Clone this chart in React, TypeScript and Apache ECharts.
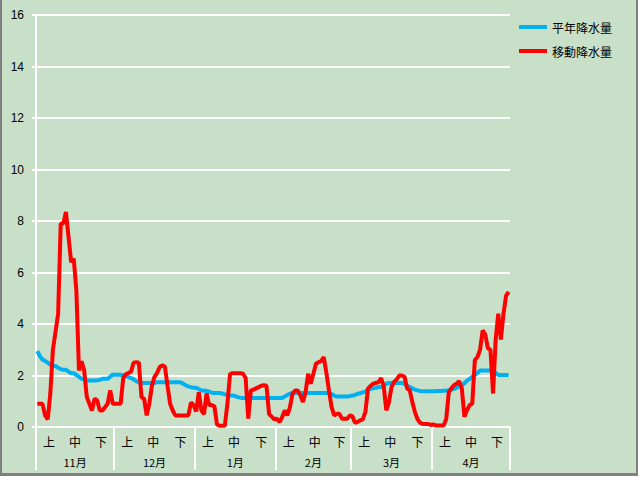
import React, { useEffect, useRef } from "react";
import * as echarts from "echarts";

const months = ["11月", "12月", "1月", "2月", "3月", "4月"];
const monthDays = [30, 31, 31, 29, 31, 30];
const thirds = ["上", "中", "下"];
const yTicks = [0, 2, 4, 6, 8, 10, 12, 14, 16];

const seriesNames = ["平年降水量", "移動降水量"];

// 移動降水量 (daily, Nov 1 – Apr 30)
const redNov = [0.9, 0.9, 0.9, 0.45, 0.3, 1.3, 3.0, 3.7, 4.4, 7.9, 7.9, 8.35, 7.38, 6.4, 6.54, 5.3, 2.2, 2.55, 2.2, 1.17, 0.9, 0.64, 1.1, 1.03, 0.64, 0.64, 0.77, 0.9, 1.42, 0.9];
const redDec = [0.9, 0.9, 0.9, 1.9, 2.05, 2.1, 2.15, 2.5, 2.52, 2.5, 1.16, 1.1, 0.45, 0.9, 1.6, 1.95, 2.1, 2.33, 2.39, 2.35, 1.6, 0.9, 0.64, 0.45, 0.45, 0.45, 0.45, 0.45, 0.45, 0.95, 0.85];
const redJan = [0.6, 1.35, 0.65, 0.5, 1.3, 0.85, 0.85, 0.8, 0.1, 0.05, 0.05, 0.05, 0.9, 2.05, 2.09, 2.09, 2.09, 2.09, 2.07, 1.9, 0.33, 1.42, 1.45, 1.5, 1.55, 1.6, 1.62, 1.6, 0.5, 0.4, 0.3];
const redFeb = [0.32, 0.19, 0.38, 0.64, 0.45, 0.77, 1.29, 1.42, 1.42, 1.23, 0.97, 1.35, 2.07, 1.68, 2.07, 2.46, 2.52, 2.56, 2.72, 2.1, 1.42, 0.77, 0.45, 0.51, 0.51, 0.32, 0.32, 0.32, 0.45];
const redMar = [0.42, 0.16, 0.2, 0.26, 0.3, 0.6, 1.5, 1.6, 1.68, 1.71, 1.74, 1.9, 1.6, 0.65, 0.95, 1.55, 1.75, 1.85, 2.0, 2.0, 1.95, 1.5, 1.42, 0.97, 0.58, 0.3, 0.16, 0.12, 0.12, 0.12, 0.08];
const redApr = [0.1, 0.06, 0.06, 0.06, 0.06, 0.3, 1.35, 1.5, 1.62, 1.68, 1.78, 1.5, 0.4, 0.65, 0.85, 0.9, 2.6, 2.72, 3.0, 3.75, 3.6, 3.06, 3.0, 1.3, 3.4, 4.4, 3.4, 4.4, 5.1, 5.25];

// 平年降水量
const blueNov = [2.95, 2.75, 2.62, 2.56, 2.5, 2.42, 2.37, 2.37, 2.3, 2.25, 2.22, 2.22, 2.15, 2.09, 2.09, 2.02, 1.95, 1.87, 1.85, 1.81, 1.81, 1.81, 1.81, 1.81, 1.83, 1.87, 1.87, 1.87, 1.95, 2.04];
const blueDec = [2.03, 2.03, 2.03, 2.0, 1.97, 1.94, 1.9, 1.85, 1.78, 1.74, 1.72, 1.71, 1.71, 1.71, 1.71, 1.71, 1.74, 1.74, 1.74, 1.74, 1.74, 1.74, 1.74, 1.74, 1.74, 1.74, 1.68, 1.62, 1.58, 1.55, 1.52];
const blueJan = [1.52, 1.47, 1.42, 1.42, 1.4, 1.37, 1.33, 1.32, 1.32, 1.32, 1.3, 1.27, 1.24, 1.22, 1.22, 1.2, 1.16, 1.14, 1.13, 1.13, 1.13, 1.13, 1.13, 1.13, 1.13, 1.13, 1.13, 1.13, 1.13, 1.13, 1.13];
const blueFeb = [1.13, 1.13, 1.13, 1.18, 1.24, 1.29, 1.32, 1.32, 1.32, 1.32, 1.32, 1.32, 1.32, 1.32, 1.32, 1.32, 1.32, 1.32, 1.32, 1.32, 1.32, 1.28, 1.22, 1.18, 1.18, 1.18, 1.18, 1.18, 1.2];
const blueMar = [1.22, 1.25, 1.29, 1.31, 1.35, 1.38, 1.45, 1.48, 1.5, 1.52, 1.55, 1.55, 1.6, 1.68, 1.71, 1.71, 1.71, 1.71, 1.71, 1.71, 1.68, 1.6, 1.55, 1.5, 1.45, 1.42, 1.39, 1.39, 1.39, 1.39, 1.39];
const blueApr = [1.39, 1.39, 1.4, 1.4, 1.41, 1.42, 1.43, 1.45, 1.48, 1.52, 1.58, 1.62, 1.7, 1.8, 1.87, 1.95, 2.02, 2.1, 2.19, 2.19, 2.19, 2.19, 2.19, 2.19, 2.1, 2.02, 2.02, 2.02, 2.02, 2.02];

const redData = [...redNov, ...redDec, ...redJan, ...redFeb, ...redMar, ...redApr];
const blueData = [...blueNov, ...blueDec, ...blueJan, ...blueFeb, ...blueMar, ...blueApr];

const FONT = "'Noto Sans CJK JP', 'Liberation Sans', sans-serif";

export default function App() {
  const ref = useRef<HTMLDivElement>(null);

  useEffect(() => {
    if (!ref.current) return;
    const chart = echarts.init(ref.current, null, { renderer: "svg" });

    const starts: number[] = [];
    let acc = 0;
    monthDays.forEach((d) => {
      starts.push(acc);
      acc += d;
    });
    const total = acc;
    const boundaries = [...starts, total];

    const thirdMap = new Map<number, string>();
    const thirdValues: number[] = [];
    starts.forEach((s, mi) => {
      const L = monthDays[mi];
      const pos = [s + 5, s + 15, s + 20 + (L - 20) / 2];
      pos.forEach((p, ti) => {
        thirdValues.push(p);
        thirdMap.set(p, thirds[ti]);
      });
    });
    const monthMap = new Map<number, string>();
    const monthValues: number[] = [];
    starts.forEach((s, mi) => {
      const c = s + monthDays[mi] / 2;
      monthValues.push(c);
      monthMap.set(c, months[mi]);
    });

    const white = "#ffffff";

    chart.setOption({
      animation: false,
      backgroundColor: "transparent",
      textStyle: { fontFamily: FONT },
      grid: { left: 36, right: 130, top: 15, bottom: 53, containLabel: false },
      legend: {
        orient: "vertical",
        left: 514,
        top: 16,
        icon: "rect",
        itemWidth: 28,
        itemHeight: 4,
        itemGap: 12,
        data: seriesNames,
        textStyle: { fontSize: 12, color: "#000", fontFamily: FONT },
      },
      xAxis: [
        {
          type: "value",
          min: 0,
          max: total,
          position: "bottom",
          axisLine: { show: true, lineStyle: { color: white, width: 2 } },
          axisTick: {
            show: true,
            customValues: boundaries,
            length: 43,
            lineStyle: { color: white, width: 2 },
          },
          axisLabel: {
            customValues: thirdValues,
            formatter: (v: number) => thirdMap.get(v) ?? "",
            margin: 8,
            fontSize: 12,
            color: "#000",
            fontFamily: FONT,
          },
          splitLine: { show: false },
        },
        {
          type: "value",
          min: 0,
          max: total,
          position: "bottom",
          offset: 0,
          axisLine: { show: false },
          axisTick: { show: false },
          axisLabel: {
            customValues: monthValues,
            formatter: (v: number) => monthMap.get(v) ?? "",
            margin: 29,
            fontSize: 11,
            color: "#000",
            fontFamily: FONT,
          },
          splitLine: { show: false },
        },
      ],
      yAxis: [
        {
          type: "value",
          min: 0,
          max: 16,
          interval: 2,
          position: "left",
          axisLine: { show: true, lineStyle: { color: white, width: 2 } },
          axisTick: { show: true, length: 4, lineStyle: { color: white, width: 2 } },
          axisLabel: {
            margin: 12,
            fontSize: 12,
            color: "#000",
            fontFamily: "'Liberation Sans', sans-serif",
            customValues: yTicks,
          },
          splitLine: { show: true, lineStyle: { color: white, width: 2 } },
        },
        {
          type: "value",
          min: 0,
          max: 16,
          interval: 2,
          position: "right",
          axisLine: { show: true, lineStyle: { color: white, width: 2 } },
          axisTick: { show: false },
          axisLabel: { show: false },
          splitLine: { show: false },
        },
      ],
      series: [
        {
          name: seriesNames[0],
          type: "line",
          xAxisIndex: 0,
          yAxisIndex: 0,
          showSymbol: false,
          symbol: "none",
          color: "#00B0F0",
          lineStyle: { color: "#00B0F0", width: 4 },
          data: blueData.map((v, i) => [i + 0.5, v]),
        },
        {
          name: seriesNames[1],
          type: "line",
          xAxisIndex: 0,
          yAxisIndex: 0,
          showSymbol: false,
          symbol: "none",
          color: "#FF0000",
          lineStyle: { color: "#FF0000", width: 4 },
          data: redData.map((v, i) => [i + 0.5, v]),
        },
      ],
    });

    return () => chart.dispose();
  }, []);

  return (
    <div style={{ position: "absolute", left: 0, top: 0, width: 640, height: 480, background: "#ffffff" }}>
      <div
        style={{
          position: "absolute",
          left: 0,
          top: 0,
          width: 634,
          height: 473,
          background: "#C8DFC8",
          borderLeft: "2px solid #808080",
          borderRight: "2px solid #808080",
          borderBottom: "3px solid #808080",
        }}
      />
      <div ref={ref} style={{ position: "absolute", left: 0, top: 0, width: 640, height: 480 }} />
    </div>
  );
}
